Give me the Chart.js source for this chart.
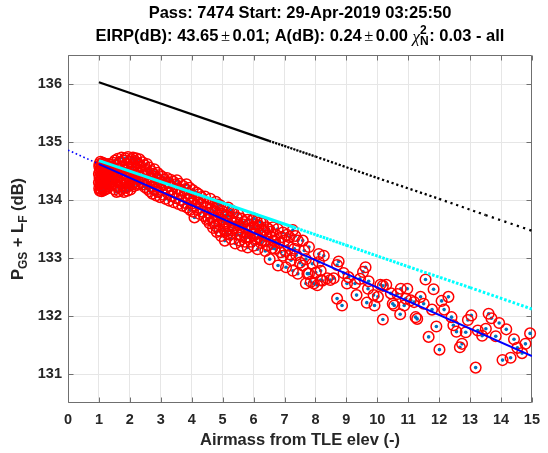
<!DOCTYPE html>
<html>
<head>
<meta charset="utf-8">
<script src="https://cdn.jsdelivr.net/npm/chart.js@4.4.1/dist/chart.umd.min.js"></script>
<style>
  html, body { margin: 0; padding: 0; background: #fff; }
</style>
</head>
<body>
<canvas id="pass" width="548" height="453"></canvas>
<script>
const xTicks = [0, 1, 2, 3, 4, 5, 6, 7, 8, 9, 10, 11, 12, 13, 14, 15];
const yTicks = [131, 132, 133, 134, 135, 136];

// measured P_GS + L_F against airmass
const samples = [
  // near zenith, airmass 1.0 - 1.5
  [1.00,134.45],[1.00,134.30],[1.01,134.58],[1.01,134.20],[1.02,134.38],[1.02,134.62],[1.03,134.16],[1.03,134.50],
  [1.04,134.27],[1.04,134.42],[1.05,134.66],[1.05,134.34],[1.06,134.19],[1.06,134.55],[1.07,134.47],[1.07,134.24],
  [1.08,134.61],[1.08,134.36],[1.09,134.15],[1.10,134.52],[1.10,134.29],[1.11,134.43],[1.12,134.64],[1.12,134.21],
  [1.13,134.33],[1.14,134.57],[1.15,134.17],[1.15,134.40],[1.16,134.49],[1.17,134.26],[1.18,134.63],[1.19,134.35],
  [1.20,134.18],[1.21,134.54],[1.22,134.44],[1.23,134.23],[1.24,134.60],[1.25,134.31],[1.26,134.48],[1.27,134.20],
  [1.28,134.56],[1.29,134.38],[1.30,134.62],[1.31,134.27],[1.33,134.45],[1.34,134.58],
  [1.36,134.34],[1.37,134.52],[1.38,134.61],[1.40,134.40],[1.41,134.31],[1.43,134.55],[1.45,134.46],[1.46,134.64],
  [1.48,134.36],[1.49,134.29],
  // 1.5 - 2.05
  [1.50,134.50],[1.51,134.18],[1.52,134.68],[1.53,134.40],[1.55,134.26],[1.56,134.60],[1.57,134.14],[1.58,134.47],
  [1.60,134.33],[1.61,134.71],[1.62,134.22],[1.64,134.55],[1.65,134.41],[1.66,134.15],[1.68,134.65],[1.69,134.30],
  [1.70,134.50],[1.72,134.19],[1.73,134.73],[1.74,134.38],[1.76,134.58],[1.77,134.25],[1.78,134.44],[1.80,134.68],
  [1.81,134.14],[1.82,134.35],[1.84,134.53],[1.85,134.72],[1.86,134.21],[1.88,134.46],[1.89,134.62],[1.90,134.29],
  [1.92,134.16],[1.93,134.40],[1.94,134.74],[1.96,134.57],[1.97,134.24],[1.98,134.49],[2.00,134.66],[2.01,134.33],
  [2.02,134.18],[2.04,134.43],[2.05,134.70],
  // 2.05 - 3.0
  [2.06,134.56],[2.07,134.27],[2.09,134.37],[2.10,134.73],[2.11,134.61],[2.13,134.24],[2.14,134.48],[2.16,134.67],
  [2.17,134.31],[2.19,134.42],[2.20,134.72],[2.22,134.54],[2.23,134.26],[2.25,134.36],[2.26,134.63],[2.28,134.47],
  [2.29,134.28],[2.31,134.70],[2.33,134.39],[2.35,134.58],[2.37,134.31],[2.39,134.50],[2.41,134.65],[2.43,134.27],
  [2.45,134.43],[2.47,134.60],[2.49,134.22],[2.51,134.35],[2.53,134.52],[2.55,134.62],[2.57,134.19],[2.59,134.44],
  [2.61,134.30],[2.63,134.56],[2.65,134.15],[2.67,134.38],[2.69,134.50],[2.71,134.23],[2.73,134.11],[2.75,134.45],
  [2.77,134.32],[2.79,134.53],[2.81,134.18],[2.83,134.40],[2.85,134.08],[2.87,134.27],[2.89,134.47],[2.91,134.14],
  [2.93,134.35],[2.95,134.22],[2.97,134.43],[2.98,134.05],[3.00,134.30],
  // 3.0 - 4.5
  [3.03,134.17],[3.05,134.40],[3.08,134.09],[3.10,134.26],[3.12,134.35],[3.15,134.02],[3.17,134.21],[3.20,134.38],
  [3.22,134.12],[3.25,134.30],[3.27,133.99],[3.30,134.24],[3.32,134.35],[3.35,134.07],[3.37,134.18],[3.40,134.32],
  [3.42,133.96],[3.45,134.13],[3.47,134.27],[3.50,134.03],[3.52,134.34],[3.55,134.20],[3.57,133.93],[3.60,134.10],
  [3.62,134.28],[3.65,134.00],[3.67,134.16],[3.70,133.90],[3.72,134.24],[3.75,134.06],[3.78,133.95],[3.80,134.19],
  [3.83,134.27],[3.85,133.87],[3.88,134.11],[3.90,134.00],[3.93,134.21],[3.95,133.83],[3.98,134.07],[4.00,133.94],
  [4.03,134.17],[4.05,133.80],[4.08,134.03],[4.09,133.70],[4.12,133.90],[4.15,134.13],[4.18,133.84],[4.20,133.98],
  [4.23,134.10],[4.26,133.76],[4.28,133.93],[4.31,134.05],[4.34,133.80],[4.37,133.97],[4.40,133.72],[4.43,134.06],
  [4.46,133.86],[4.49,133.66],
  // 4.5 - 6.5
  [4.52,133.95],[4.54,133.68],[4.55,133.78],[4.58,133.60],[4.60,134.02],[4.62,133.84],[4.63,133.70],[4.66,133.88],
  [4.69,133.52],[4.70,133.62],[4.72,133.81],[4.75,133.64],[4.77,133.55],[4.78,133.97],[4.81,133.45],[4.83,133.86],
  [4.85,133.92],[4.86,133.73],[4.89,133.58],[4.90,133.47],[4.92,133.91],[4.95,133.38],[4.97,133.76],[4.98,133.66],
  [5.01,133.80],[5.03,133.62],[5.04,133.50],[5.07,133.30],[5.09,133.45],[5.10,133.74],[5.13,133.60],[5.15,133.42],
  [5.16,133.72],[5.18,133.87],[5.21,133.55],[5.23,133.40],[5.25,133.67],[5.28,133.33],[5.29,133.82],[5.31,133.48],
  [5.35,133.78],[5.36,133.52],[5.38,133.60],[5.41,133.25],[5.43,133.62],[5.45,133.70],[5.48,133.40],[5.50,133.76],
  [5.52,133.57],[5.55,133.30],[5.57,133.53],[5.58,133.40],[5.60,133.68],[5.62,133.21],[5.64,133.58],[5.66,133.44],
  [5.70,133.62],[5.72,133.28],[5.73,133.35],[5.76,133.50],[5.78,133.36],[5.80,133.66],[5.81,133.18],[5.85,133.58],
  [5.87,133.36],[5.89,133.47],[5.92,133.28],[5.94,133.52],[5.95,133.65],[5.98,133.40],[6.00,133.21],[6.02,133.68],
  [6.04,133.52],[6.06,133.42],[6.08,133.33],[6.10,133.64],[6.13,133.15],[6.14,133.36],[6.16,133.56],[6.20,133.42],
  [6.22,133.62],[6.24,133.26],[6.26,133.30],[6.28,133.48],[6.30,133.60],[6.34,133.47],[6.36,133.30],[6.38,133.12],
  [6.42,133.53],[6.42,133.38],[6.46,133.22],[6.48,133.50],
  // 6.5 - 10
  [6.52,132.98],[6.55,133.45],[6.58,133.36],[6.60,133.17],[6.63,133.53],[6.63,133.30],[6.68,133.16],[6.70,133.28],
  [6.72,133.40],[6.78,133.50],[6.79,132.87],[6.83,133.26],[6.88,133.10],[6.90,133.36],[6.95,133.44],[6.95,133.04],
  [7.00,133.30],[7.02,133.12],[7.05,132.84],[7.08,133.40],[7.11,133.21],[7.16,133.36],[7.18,133.06],[7.21,132.96],
  [7.27,133.48],[7.27,132.78],[7.32,133.16],[7.35,133.38],[7.38,133.05],[7.43,133.30],[7.43,132.73],[7.50,132.92],
  [7.59,133.30],[7.59,132.87],[7.64,133.13],[7.69,132.98],[7.69,132.56],[7.74,132.73],[7.79,133.19],[7.79,132.73],
  [7.85,132.59],[7.90,132.90],[7.95,132.56],[8.01,132.75],[8.06,132.53],[8.11,133.07],[8.11,132.93],[8.17,132.62],
  [8.17,132.78],[8.22,132.61],[8.27,133.04],[8.38,132.65],[8.48,132.62],[8.59,132.65],[8.70,132.88],[8.70,132.30],
  [8.75,132.94],[8.86,132.18],[8.91,132.74],[9.02,132.56],[9.07,132.67],[9.28,132.56],[9.33,132.36],[9.44,132.64],
  [9.54,132.76],[9.62,132.84],[9.66,132.23],[9.70,132.47],[9.72,132.60],[9.88,132.36],[9.91,132.18],
  // 10 - 15
  [10.02,132.33],[10.10,132.54],[10.18,131.94],[10.18,132.52],[10.29,132.54],[10.44,132.39],[10.50,132.21],[10.55,132.18],
  [10.65,132.38],[10.74,132.03],[10.76,132.47],[10.87,132.18],[10.92,132.30],[10.97,132.47],[11.08,132.27],[11.19,132.24],
  [11.24,131.98],[11.29,131.95],[11.40,132.33],[11.50,132.21],[11.56,132.63],[11.66,131.64],[11.77,132.11],[11.82,132.46],
  [11.91,131.82],[12.01,131.42],[12.08,132.26],[12.16,132.11],[12.30,132.33],[12.40,131.98],[12.46,131.84],[12.56,131.73],
  [12.67,131.46],[12.74,131.52],[12.86,131.72],[12.93,131.93],[13.04,132.01],[13.18,131.11],[13.25,131.75],[13.39,131.66],
  [13.51,131.78],[13.60,132.04],[13.69,131.96],[13.83,131.65],[13.94,131.88],[14.05,131.24],[14.17,131.77],[14.31,131.28],
  [14.42,131.60],[14.53,131.45],[14.68,131.36],[14.79,131.52],[14.94,131.70]
];

// fitted line and its extrapolation to airmass 0
const fitAirmass = [1, 15];
const fitPower = [134.62, 131.31];
const extAirmass = [0, 1];
const extPower = [134.86, 134.62];

// free-space reference (black) and atmosphere-corrected (cyan)
const freeAirmass = [1, 6.5, 8, 10, 12, 13.5, 15];
const freePower = [136.03, 135.02, 134.75, 134.38, 134.02, 133.74, 133.47];
const atmAirmass = [1, 7.3, 9, 11, 13, 15];
const atmPower = [134.68, 133.53, 133.22, 132.85, 132.49, 132.12];

const freeDash = [[], [2.2, 1], [2.2, 1.9], [2.2, 2.8], [2.2, 3.8], [2.2, 4.4]];
const atmDash = [[], [2.6, 0.8], [2.6, 1.2], [2.6, 1.6], [2.6, 1.9]];

const FONT = '"Liberation Sans", Arial, Helvetica, sans-serif';
const SERIF = '"Liberation Serif", "DejaVu Serif", serif';
const axisColor = '#6f6f6f';
const textColor = '#262626';

const pts = (xs, ys) => xs.map((x, i) => ({ x, y: ys[i] }));
const scatterPts = samples.map(([x, y]) => ({ x, y }));

// draw a row of text pieces, with optional stacked sup/sub
function drawPieces(ctx, pieces, cx, baseline) {
  const widths = pieces.map(p => {
    ctx.font = p.font;
    if (p.sup) {
      return Math.max(ctx.measureText(p.sup).width, ctx.measureText(p.sub).width) + (p.pad || 0);
    }
    return ctx.measureText(p.t).width + 2 * (p.pad || 0);
  });
  const total = widths.reduce((a, b) => a + b, 0);
  let x = cx - total / 2;
  ctx.textAlign = 'left';
  ctx.textBaseline = 'alphabetic';
  pieces.forEach((p, i) => {
    ctx.font = p.font;
    if (p.sup) {
      ctx.fillText(p.sup, x, baseline - p.up);
      ctx.fillText(p.sub, x, baseline + p.down);
    } else {
      ctx.fillText(p.t, x + (p.pad || 0), baseline + (p.dy || 0));
    }
    x += widths[i];
  });
}

const labels = {
  id: 'labels',
  afterDraw(chart) {
    const { ctx, chartArea: a } = chart;
    const cx = (a.left + a.right) / 2;
    const B = 'bold 16.5px ' + FONT;
    const Bs = 'bold 12px ' + FONT;
    ctx.save();
    ctx.fillStyle = '#000';
    drawPieces(ctx, [{ t: 'Pass: 7474 Start: 29-Apr-2019 03:25:50', font: B }], cx, 18);
    drawPieces(ctx, [
      { t: 'EIRP(dB): 43.65', font: B },
      { t: '\u00b1', font: '16.5px ' + SERIF, pad: 2.5 },
      { t: '0.01; A(dB): 0.24', font: B },
      { t: '\u00b1', font: '16.5px ' + SERIF, pad: 2.5 },
      { t: '0.00 ', font: B },
      { t: '\u03c7', font: 'italic 17px ' + SERIF, dy: 1 },
      { sup: '2', sub: 'N', font: Bs, up: 7, down: 4, pad: 0.5 },
      { t: ': 0.03 - all', font: B }
    ], cx, 41);

    ctx.fillStyle = textColor;
    drawPieces(ctx, [{ t: 'Airmass from TLE elev (-)', font: B }], cx, 445);

    ctx.translate(23, (a.top + a.bottom) / 2);
    ctx.rotate(-Math.PI / 2);
    drawPieces(ctx, [
      { t: 'P', font: B },
      { t: 'GS', font: Bs, dy: 4 },
      { t: ' + L', font: B },
      { t: 'F', font: Bs, dy: 4 },
      { t: ' (dB)', font: B }
    ], 0, 0);
    ctx.restore();
  }
};

const frame = {
  id: 'frame',
  beforeDatasetsDraw(chart) {
    const { ctx, chartArea: a, scales } = chart;
    const L = Math.round(a.left) + 0.5, R = Math.round(a.right) - 0.5;
    const T = Math.round(a.top) + 0.5, Bt = Math.round(a.bottom) - 0.5;
    ctx.save();
    ctx.strokeStyle = axisColor;
    ctx.lineWidth = 1;
    ctx.beginPath();
    ctx.rect(L, T, R - L, Bt - T);
    xTicks.forEach(v => {
      const px = Math.round(scales.x.getPixelForValue(v)) + 0.5;
      ctx.moveTo(px, Bt); ctx.lineTo(px, Bt - 5);
      ctx.moveTo(px, T); ctx.lineTo(px, T + 5);
    });
    yTicks.forEach(v => {
      const py = Math.round(scales.y.getPixelForValue(v)) + 0.5;
      ctx.moveTo(L, py); ctx.lineTo(L + 5, py);
      ctx.moveTo(R, py); ctx.lineTo(R - 5, py);
    });
    ctx.stroke();
    ctx.restore();
  }
};

new Chart(document.getElementById('pass'), {
  type: 'scatter',
  data: {
    datasets: [
      {
        label: 'fit extrapolation',
        type: 'line',
        data: pts(extAirmass, extPower),
        borderColor: '#0000ff',
        borderWidth: 1.6,
        borderDash: [1.6, 2.6],
        pointRadius: 0,
        order: 1
      },
      {
        label: 'fit',
        type: 'line',
        data: pts(fitAirmass, fitPower),
        borderColor: '#0000ff',
        borderWidth: 2,
        pointRadius: 0,
        order: 1
      },
      {
        label: 'atmosphere',
        type: 'line',
        data: pts(atmAirmass, atmPower),
        borderColor: '#00ffff',
        borderWidth: 3,
        borderCapStyle: 'butt',
        pointRadius: 0,
        segment: { borderDash: c => atmDash[c.p0DataIndex] },
        order: 2
      },
      {
        label: 'free space',
        type: 'line',
        data: pts(freeAirmass, freePower),
        borderColor: '#000000',
        borderWidth: 2.3,
        borderCapStyle: 'butt',
        pointRadius: 0,
        segment: { borderDash: c => freeDash[c.p0DataIndex] },
        order: 3
      },
      {
        label: 'measured',
        data: scatterPts,
        pointStyle: 'circle',
        pointRadius: 5.3,
        borderWidth: 1.5,
        borderColor: '#ff0000',
        backgroundColor: 'rgba(0,0,0,0)',
        clip: false,
        order: 4
      },
      {
        label: 'measured dots',
        data: scatterPts,
        pointRadius: 1.8,
        borderWidth: 0,
        backgroundColor: '#0072bd',
        clip: false,
        order: 5
      }
    ]
  },
  options: {
    responsive: false,
    animation: false,
    events: [],
    layout: { padding: { top: 55, right: 8, left: 0, bottom: 0 } },
    plugins: { legend: { display: false }, tooltip: { enabled: false } },
    scales: {
      x: {
        type: 'linear',
        min: 0,
        max: 15,
        afterBuildTicks: s => { s.ticks = xTicks.map(v => ({ value: v })); },
        afterFit: s => { s.height = 50; },
        grid: { color: '#e6e6e6', drawTicks: false },
        border: { display: false },
        ticks: { padding: 8, color: textColor, font: { family: FONT, size: 14.5, weight: 'bold' } }
      },
      y: {
        type: 'linear',
        min: 130.5,
        max: 136.5,
        afterBuildTicks: s => { s.ticks = yTicks.map(v => ({ value: v })); },
        afterFit: s => { s.width = 68; },
        grid: { color: '#e6e6e6', drawTicks: false },
        border: { display: false },
        ticks: { padding: 6, color: textColor, font: { family: FONT, size: 14.5, weight: 'bold' } }
      }
    }
  },
  plugins: [frame, labels]
});
</script>
</body>
</html>
